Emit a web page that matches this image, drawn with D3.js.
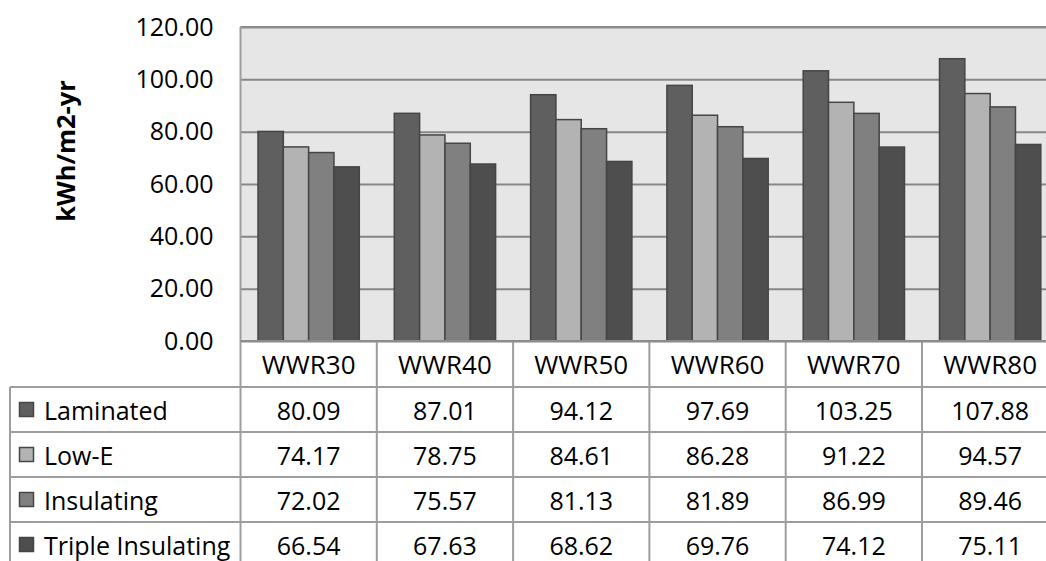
<!DOCTYPE html>
<html>
<head>
<meta charset="utf-8">
<script src="https://cdn.jsdelivr.net/npm/d3@7"></script>
<style>
  html, body { margin: 0; padding: 0; background: #fff; overflow: hidden; }
  svg { display: block; font-family: "Open Sans", "DejaVu Sans", sans-serif; }
</style>
</head>
<body>
<svg id="chart" width="1046" height="561"></svg>
<script>
// Annual energy use intensity by window-to-wall ratio and glazing type
const categories = ["WWR30", "WWR40", "WWR50", "WWR60", "WWR70", "WWR80"];
const seriesNames = ["Laminated", "Low-E", "Insulating", "Triple Insulating"];
const laminated = [80.09, 87.01, 94.12, 97.69, 103.25, 107.88];
const lowE = [74.17, 78.75, 84.61, 86.28, 91.22, 94.57];
const insulating = [72.02, 75.57, 81.13, 81.89, 86.99, 89.46];
const tripleInsulating = [66.54, 67.63, 68.62, 69.76, 74.12, 75.11];
const yTicks = [0, 20, 40, 60, 80, 100, 120];
const yTitle = "kWh/m2-yr";

const seriesValues = [laminated, lowE, insulating, tripleInsulating];
const seriesFill = ["#5f5f5f", "#b3b3b3", "#808080", "#4e4e4e"];

const svg = d3.select("#chart");
const fmt = d3.format(".2f");

// plot frame
const plotLeft = 240.5, plotRight = 1058.3, plotTop = 27, plotBottom = 341;
const tableLeft = 10;
const rowH = 45;
const headerBottom = 387;

const x0 = d3.scaleBand().domain(categories).range([plotLeft, plotRight]).padding(0);
const gap = 35;
const x1 = d3.scaleBand().domain(seriesNames)
  .range([gap / 2, x0.bandwidth() - gap / 2]).padding(0);
const y = d3.scaleLinear().domain([0, 120]).range([plotBottom, plotTop]);

// plot background
svg.append("rect")
  .attr("x", plotLeft).attr("y", plotTop)
  .attr("width", plotRight - plotLeft).attr("height", plotBottom - plotTop)
  .attr("fill", "#e6e6e6");

// horizontal gridlines
const grid = svg.append("g")
  .attr("transform", `translate(${plotLeft},0)`)
  .call(d3.axisLeft(y).tickValues(yTicks).tickSize(-(plotRight - plotLeft)).tickFormat(""));
grid.select(".domain").remove();
grid.selectAll(".tick line").attr("stroke", "#878787").attr("stroke-width", 2);

// bars
const groups = svg.append("g").selectAll("g")
  .data(categories)
  .join("g")
  .attr("transform", d => `translate(${x0(d)},0)`);

groups.selectAll("rect")
  .data((c, ci) => seriesNames.map((s, si) => ({ s, si, v: seriesValues[si][ci] })))
  .join("rect")
  .attr("x", d => x1(d.s))
  .attr("y", d => y(d.v))
  .attr("width", x1.bandwidth())
  .attr("height", d => y(0) - y(d.v))
  .attr("fill", d => seriesFill[d.si])
  .attr("stroke", "#454545")
  .attr("stroke-width", 1.5);

// y axis tick labels
const yAxis = svg.append("g")
  .attr("transform", `translate(${plotLeft},0)`)
  .call(d3.axisLeft(y).tickValues(yTicks).tickFormat(fmt).tickSize(0).tickPadding(27));
yAxis.select(".domain").remove();
yAxis.selectAll("text")
  .attr("fill", "#000")
  .style("font-size", "25px")
  .style("font-family", "\"Open Sans\", sans-serif");

// plot top border
svg.append("line")
  .attr("x1", plotLeft).attr("x2", plotRight)
  .attr("y1", plotTop).attr("y2", plotTop)
  .attr("stroke", "#8c8c8c").attr("stroke-width", 2);

// y axis title
svg.append("text")
  .attr("transform", `translate(65,151) rotate(-90)`)
  .attr("text-anchor", "middle")
  .attr("dominant-baseline", "central")
  .style("font-size", "25.5px")
  .style("font-weight", "bold")
  .attr("fill", "#000")
  .text(yTitle);

// data table
const table = svg.append("g");
const lineColor = "#9d9d9d";
const bounds = categories.map(c => x0(c)).concat([plotRight]);

// vertical lines of category columns
bounds.forEach(bx => {
  table.append("line")
    .attr("x1", bx).attr("x2", bx)
    .attr("y1", bx === plotLeft ? plotTop : plotBottom)
    .attr("y2", headerBottom + rowH * seriesNames.length)
    .attr("stroke", lineColor).attr("stroke-width", 2);
});
// legend column left edge
table.append("line")
  .attr("x1", tableLeft).attr("x2", tableLeft)
  .attr("y1", headerBottom).attr("y2", headerBottom + rowH * seriesNames.length)
  .attr("stroke", lineColor).attr("stroke-width", 2);
// horizontal lines
table.append("line")
  .attr("x1", plotLeft).attr("x2", plotRight)
  .attr("y1", plotBottom).attr("y2", plotBottom)
  .attr("stroke", "#8c8c8c").attr("stroke-width", 2);
d3.range(seriesNames.length + 1).forEach(i => {
  const ly = headerBottom + i * rowH;
  table.append("line")
    .attr("x1", tableLeft).attr("x2", plotRight)
    .attr("y1", ly).attr("y2", ly)
    .attr("stroke", lineColor).attr("stroke-width", 2);
});

// header labels
table.selectAll("text.header")
  .data(categories)
  .join("text")
  .attr("class", "header")
  .attr("x", d => x0(d) + x0.bandwidth() / 2)
  .attr("y", (plotBottom + headerBottom) / 2)
  .attr("text-anchor", "middle")
  .attr("dominant-baseline", "central")
  .style("font-size", "26px")
  .attr("fill", "#000")
  .text(d => d);

// series rows
seriesNames.forEach((name, si) => {
  const cy = headerBottom + si * rowH + rowH / 2;
  table.append("rect")
    .attr("x", 19.5).attr("y", cy - 7)
    .attr("width", 14).attr("height", 14)
    .attr("fill", seriesFill[si])
    .attr("stroke", "#454545").attr("stroke-width", 1.5);
  table.append("text")
    .attr("x", 44).attr("y", cy)
    .attr("dominant-baseline", "central")
    .style("font-size", "25px")
    .attr("fill", "#000")
    .text(name);
  table.selectAll(null)
    .data(seriesValues[si])
    .join("text")
    .attr("x", (v, ci) => x0(categories[ci]) + x0.bandwidth() / 2)
    .attr("y", cy)
    .attr("text-anchor", "middle")
    .attr("dominant-baseline", "central")
    .style("font-size", "25px")
    .attr("fill", "#000")
    .text(v => fmt(v));
});
</script>
</body>
</html>
